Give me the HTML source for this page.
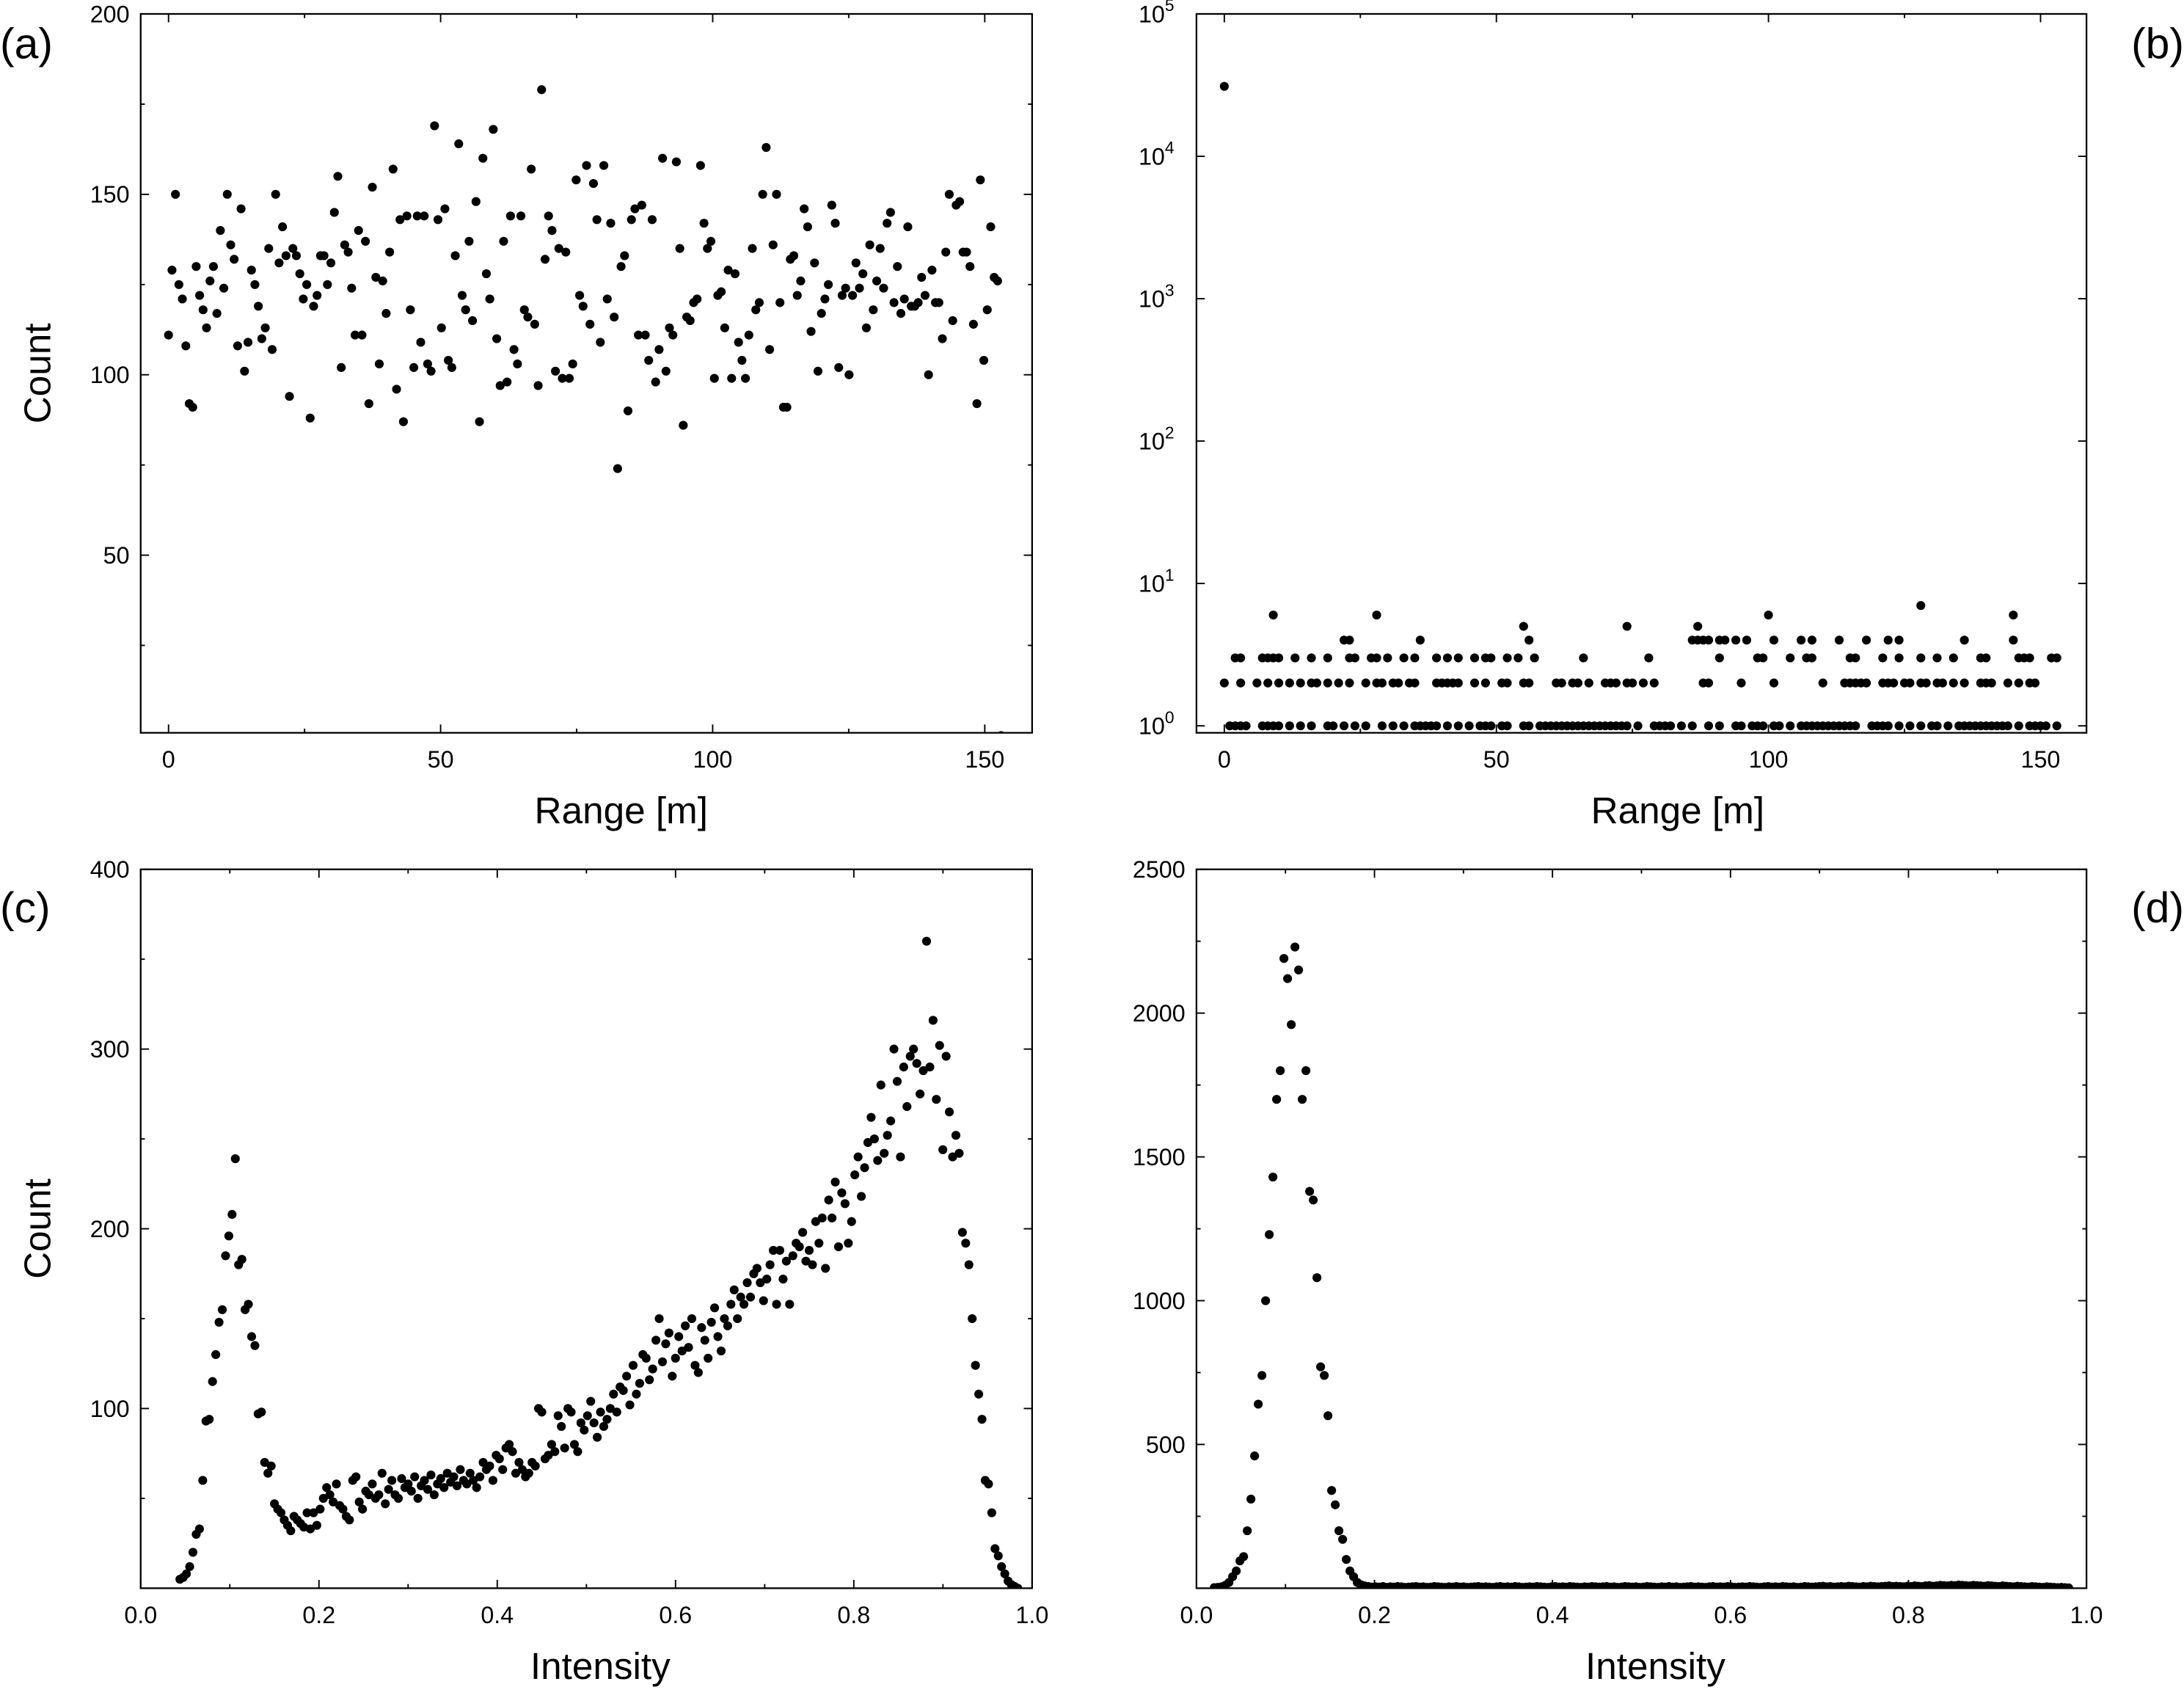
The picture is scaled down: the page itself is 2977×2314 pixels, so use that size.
<!DOCTYPE html>
<html><head><meta charset="utf-8"><style>
html,body{margin:0;padding:0;background:#fff;}
svg{display:block;font-family:"Liberation Sans",Arial,sans-serif;}
</style></head><body>
<svg id="fig" xmlns="http://www.w3.org/2000/svg" width="2977" height="2314" viewBox="0 0 1568 1218.8">
<rect width="1568" height="1218.8" fill="#fff"/>
</svg>
<script>
// ---------- data ----------
const rangeA = [111,129,150,125,121,108,92,91,130,122,118,113,126,130,117,140,124,150,136,132,108,146,101,109,129,125,119,110,113,135,107,150,131,141,133,94,135,133,128,121,125,88,119,122,133,133,125,131,145,155,102,136,134,124,111,140,111,137,92,152,127,103,126,117,134,157,96,143,87,144,118,102,144,109,144,103,101,169,143,113,146,104,102,133,164,122,118,137,115,148,87,160,128,121,168,110,97,137,98,144,107,103,144,118,116,157,114,97,179,132,144,140,101,135,99,134,99,103,154,122,119,158,114,153,143,109,158,121,142,116,74,130,133,90,143,146,111,147,111,104,143,98,107,160,101,113,111,159,135,86,116,115,120,121,158,142,135,137,99,122,123,113,129,99,128,109,104,99,111,135,118,120,150,163,107,136,150,120,91,91,132,133,122,126,146,141,112,131,101,117,121,125,147,142,102,122,124,100,122,131,124,128,113,136,118,126,135,124,142,145,120,130,117,121,141,119,119,120,127,122,100,129,120,120,110,134,150,115,147,148,134,134,130,114,92,154,104,118,141,127,126,0];
const bX1 = [1,2,3,4,7,8,9,10,12,14,16,19,20,22,24,26,29,31,33,35,36,37,38,39,41,43,45,47,48,49,51,52,55,56,58,59,60,61,62,63,64,65,66,67,68,69,70,71,72,73,74,76,79,80,81,82,84,86,89,91,94,95,97,98,99,101,102,104,106,107,108,109,110,111,112,113,114,115,116,119,120,121,122,124,126,128,130,131,133,135,136,137,138,139,140,141,142,143,144,146,148,149,150,151,153];
const bX2 = [0,3,6,8,10,12,14,16,17,19,21,23,26,28,29,31,32,34,35,39,40,41,42,43,46,48,51,52,55,56,61,62,64,65,67,70,71,72,74,75,77,79,88,89,95,101,110,114,115,116,117,118,121,122,123,125,126,128,129,131,132,134,136,139,140,141,144,146,148,149];
const bX3 = [2,3,7,8,9,10,13,16,19,23,24,27,28,30,33,35,39,41,43,46,48,49,52,54,57,66,78,91,98,99,104,107,108,115,116,121,124,128,131,134,139,140,146,147,148,152,153];
const bX4 = [22,23,36,56,86,87,88,89,91,92,94,96,101,106,108,113,118,122,124,136,145];
const bX5 = [55,74,87];
const bX6 = [9,28,100,145];
const bX7 = [128];
const bOutlierX = [0], bOutlierY = [31000];
const intenC = [5,6,8,12,20,30,33,60,93,94,115,130,148,155,185,196,208,239,180,183,155,158,140,135,97,98,70,64,68,47,44,42,38,35,32,40,38,36,34,42,33,42,35,44,50,56,52,48,58,46,44,40,38,60,62,48,44,54,52,58,50,52,64,47,55,60,52,50,61,56,58,54,62,50,57,60,55,63,52,58,61,56,64,59,62,57,66,60,58,64,60,56,62,70,66,68,60,74,72,66,78,80,76,64,70,66,62,64,70,68,100,98,72,74,80,76,96,90,78,100,98,80,76,92,88,96,104,92,84,98,90,94,100,108,98,112,110,118,102,124,108,114,130,128,116,122,138,150,126,136,142,118,128,140,132,146,134,150,124,120,145,138,128,148,156,140,132,150,146,158,166,150,162,158,170,162,175,178,170,160,172,180,188,158,188,172,182,158,185,192,190,198,182,188,180,204,192,206,178,216,206,226,190,220,214,192,204,230,240,218,234,248,262,250,238,280,242,252,260,300,282,240,290,268,296,300,292,275,288,360,290,316,272,302,244,296,265,240,252,242,198,192,180,150,124,108,94,60,58,42,22,18,12,8,4,2,1,0];
const intenD = [2,3,5,10,20,40,60,95,110,200,310,460,640,740,1000,1230,1430,1700,1800,2190,2120,1960,2230,2150,1700,1800,1380,1350,1080,770,740,600,340,290,200,170,100,60,40,20,12,8,6,4,5,4,6,3,5,4,6,5,3,4,5,6,4,5,3,4,6,5,4,3,5,4,6,4,5,3,4,5,6,4,5,4,3,5,6,4,5,4,6,5,3,4,5,4,6,5,4,3,5,6,4,5,4,6,5,4,3,5,4,6,5,4,5,6,4,5,3,4,6,5,4,5,3,4,6,5,4,3,5,4,6,4,5,3,4,5,6,4,5,4,3,5,6,4,5,4,6,5,3,4,5,4,6,5,4,3,5,6,4,5,4,6,5,4,5,3,4,6,5,4,5,6,7,5,6,4,5,6,5,7,6,5,4,6,5,7,6,5,6,7,8,6,7,6,5,7,6,8,7,6,8,9,7,8,10,9,8,10,9,11,10,9,8,10,9,8,7,9,8,7,6,8,7,6,5,7,6,5,4,6,5,4,3,5,4,3,2,3,2,1];
const ticksA = [50,100,150,200], ticksRange = [0,50,100,150];
const ticksC = [100,200,300,400], ticksD = [500,1000,1500,2000,2500];
const ticksInt = [0.0,0.2,0.4,0.6,0.8,1.0];

// ---------- helpers ----------
const NS='http://www.w3.org/2000/svg', svg=document.getElementById('fig');
function el(tag,attrs,parent){const e=document.createElementNS(NS,tag);for(const k in attrs)e.setAttribute(k,attrs[k]);(parent||svg).appendChild(e);return e;}
function txt(s,x,y,size,anchor,parent,rot){const t=el('text',{x:x,y:y,'font-size':size,'text-anchor':anchor||'middle',fill:'#000'},parent);if(rot)t.setAttribute('transform','rotate(-90 '+x+' '+y+')');t.textContent=s;return t;}

function panel(name,L,R,T,B,sx,sy,xTicks,xFmt,yTicks,yFmt,xTitle,yTitle,minorX,minorY,titleShift){
  const g=el('g',{});
  
  
  const box=el('rect',{x:L,y:T,width:R-L,height:B-T,fill:'none',stroke:'#000','stroke-width':1.2},g);
  
  
  const ax=el('g',{},g);
  
  
  (minorX||[]).forEach(v=>{const x=sx(v);el('line',{x1:x,x2:x,y1:B,y2:B-3,stroke:'#000'},ax);el('line',{x1:x,x2:x,y1:T,y2:T+3,stroke:'#000'},ax);});
  xTicks.forEach(v=>{const x=sx(v);el('line',{x1:x,x2:x,y1:B,y2:B-6,stroke:'#000'},ax);el('line',{x1:x,x2:x,y1:T,y2:T+6,stroke:'#000'},ax);
    const t=txt(xFmt(v),x,B+25,17,'middle',ax);});
  const ay=el('g',{},g);
  
  
  (minorY||[]).forEach(v=>{const y=sy(v);el('line',{x1:L,x2:L+3,y1:y,y2:y,stroke:'#000'},ay);el('line',{x1:R,x2:R-3,y1:y,y2:y,stroke:'#000'},ay);});
  yTicks.forEach(v=>{const y=sy(v);el('line',{x1:L,x2:L+6,y1:y,y2:y,stroke:'#000'},ay);el('line',{x1:R,x2:R-6,y1:y,y2:y,stroke:'#000'},ay);
    yFmt(v,L-8,y+6,ay);});
  if(xTitle){const t=txt(xTitle,(L+R)/2+titleShift,B+65,27,'middle',g);}
  if(yTitle){const t=txt(yTitle,36,(T+B)/2,27,'middle',g,true);}
  return g;
}
function plainY(v,x,y,p){const t=txt(String(v),x,y,17,'end',p);}
function dots(g,xs,ys,sx,sy,L,R,T,B,name){
  const clipId='c'+name;const cp=el('clipPath',{id:clipId},g);el('rect',{x:L,y:T,width:R-L,height:B-T},cp);
  const dg=el('g',{'clip-path':'url(#'+clipId+')'},g);
  
  
  xs.forEach((xv,i)=>{const c=el('circle',{cx:sx(xv),cy:sy(ys[i]),r:3.2,fill:'#000'},dg);
    
    });
}
function lin(d0,d1,r0,r1){return v=>r0+(v-d0)*(r1-r0)/(d1-d0);}

// ---------- panel a ----------
{const L=101,R=741,T=10,B=526;const sx=lin(0,150,121,707),sy=lin(0,200,528,10);
 const g=panel('panel-a',L,R,T,B,sx,sy,ticksRange,String,ticksA,plainY,'Range [m]','Count',[25,75,125],[25,75,125,175],25);
 const xs=rangeA.map((v,i)=>i*153/(rangeA.length-1));
 dots(g,xs,rangeA,sx,sy,L,R,T,B,'range-count-series');}
// ---------- panel b ----------
{const L=859,R=1498,T=10,B=526;const sx=lin(0,150,879,1465);const sy=v=>521-Math.log10(v)*102.2;
 const g=panel('panel-b',L,R,T,B,sx,v=>sy(Math.pow(10,v)),ticksRange,String,[0,1,2,3,4,5],(v,x,y,p)=>{
   const t=el('text',{x:x-8,y:y,'font-size':17,'text-anchor':'end'},p);
   t.textContent='10';const s=el('tspan',{dy:-8,'font-size':12},t);s.textContent=String(v);},'Range [m]',null,[25,75,125],[],26);
 const xs=[],ys=[];[[bX1,1],[bX2,2],[bX3,3],[bX4,4],[bX5,5],[bX6,6],[bX7,7]].forEach(([a,v])=>a.forEach(x=>{xs.push(x);ys.push(v);}));
 bOutlierX.forEach((x,i)=>{xs.push(x);ys.push(bOutlierY[i]);});
 dots(g,xs,ys,sx,sy,L,R,T-5,B+5,'range-log-series');}
// ---------- panel c ----------
{const L=101,R=741,T=624,B=1140;const sx=lin(0,1,101,741),sy=lin(0,400,1140,624);
 const g=panel('panel-c',L,R,T,B,sx,sy,ticksInt,v=>v.toFixed(1),ticksC,plainY,'Intensity','Count',[0.1,0.3,0.5,0.7,0.9],[50,150,250,350],10);
 const xs=intenC.map((v,i)=>0.044+i*(0.984-0.044)/(intenC.length-1));
 dots(g,xs,intenC,sx,sy,L,R,T,B,'intensity-count-series');}
// ---------- panel d ----------
{const L=859,R=1498,T=624,B=1140;const sx=lin(0,1,859,1498),sy=lin(0,2500,1140,624);
 const g=panel('panel-d',L,R,T,B,sx,sy,ticksInt,v=>v.toFixed(1),ticksD,plainY,'Intensity',null,[0.1,0.3,0.5,0.7,0.9],[250,750,1250,1750,2250],10);
 const xs=intenD.map((v,i)=>0.02+i*(0.98-0.02)/(intenD.length-1));
 dots(g,xs,intenD,sx,sy,L,R,T,B,'intensity-d-series');}
// ---------- panel letters ----------
[['(a)',0,42,'start'],['(b)',1568,42,'end'],['(c)',0,662,'start'],['(d)',1568,662,'end']].forEach(([s,x,y,a])=>{
  const t=txt(s,x,y,31,a);
  
  
});
</script>
</body></html>
